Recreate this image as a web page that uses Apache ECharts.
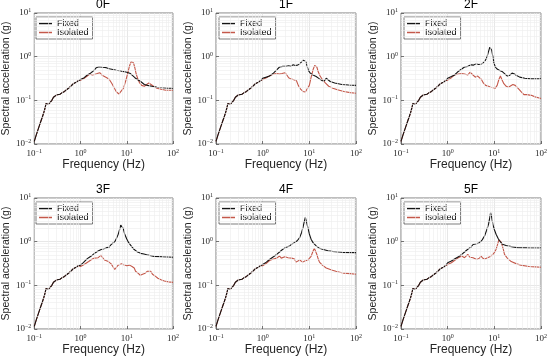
<!DOCTYPE html>
<html><head><meta charset="utf-8">
<script src="https://cdn.jsdelivr.net/npm/echarts@6/dist/echarts.min.js"></script>
<style>html,body{margin:0;padding:0;background:#fff}#c{width:550px;height:357px}</style>
</head><body><div id="c"></div>
<script>
const panelTitles = ['0F','1F','2F','3F','4F','5F'];
const seriesNames = ['Fixed','Isolated'];
const xTicks = [0.1, 1, 10, 100];
const yTicks = [0.01, 0.1, 1, 10];
const xMinorGrid = [0.2,0.3,0.4,0.5,0.6,0.7,0.8,0.9,2,3,4,5,6,7,8,9,20,30,40,50,60,70,80,90];
const yMinorGrid = [0.02,0.03,0.04,0.05,0.06,0.07,0.08,0.09,0.2,0.3,0.4,0.5,0.6,0.7,0.8,0.9,2,3,4,5,6,7,8,9];

// common low-frequency part (0.1 - 0.9 Hz)
const lowFreq = [0.1,0.11,0.12,0.13,0.14,0.15,0.16,0.17,0.18,0.19,0.2,0.21,0.22,0.24,0.26,0.28,0.3,0.33,0.36,0.4,0.45,0.5,0.55,0.6,0.65,0.7,0.75,0.8,0.9];
const lowAcc  = [0.0115,0.016,0.021,0.027,0.034,0.042,0.052,0.065,0.085,0.092,0.08,0.075,0.085,0.1,0.118,0.13,0.132,0.13,0.138,0.15,0.16,0.175,0.19,0.205,0.22,0.24,0.235,0.26,0.28];

const fixed0F = [[1.0,0.3],[1.2,0.33],[1.4,0.38],[1.6,0.41],[1.8,0.45],[2.0,0.5],[2.2,0.56],[2.5,0.59],[3.0,0.57],[3.6,0.56],[4.2,0.53],[5,0.51],[6,0.49],[7,0.48],[8,0.46],[9,0.45],[10,0.44],[12,0.41],[13,0.4],[15,0.33],[17,0.3],[20,0.27],[24,0.23],[28,0.22],[35,0.21],[45,0.2],[60,0.195],[80,0.19],[100,0.19]];
const isolated0F = [[1.0,0.29],[1.2,0.32],[1.4,0.36],[1.6,0.4],[1.8,0.38],[2.0,0.39],[2.3,0.41],[2.6,0.43],[2.8,0.42],[3.0,0.37],[3.3,0.36],[3.7,0.33],[4.2,0.3],[4.8,0.24],[5.4,0.19],[6,0.155],[6.8,0.14],[7.5,0.15],[8.5,0.19],[9.5,0.28],[10.5,0.42],[11.5,0.62],[12.5,0.78],[13.2,0.82],[14,0.72],[15,0.55],[16,0.4],[17.5,0.3],[19,0.25],[21,0.22],[24,0.21],[27,0.23],[30,0.25],[33,0.24],[38,0.21],[45,0.19],[55,0.18],[70,0.17],[85,0.17],[100,0.17]];
const fixed1F = [[1.0,0.32],[1.2,0.34],[1.4,0.36],[1.7,0.42],[2.0,0.5],[2.3,0.58],[2.7,0.6],[3.2,0.6],[3.6,0.62],[4.0,0.6],[4.5,0.65],[5,0.63],[5.6,0.64],[6.2,0.68],[6.8,0.75],[7.4,0.83],[7.9,0.85],[8.4,0.78],[9,0.6],[9.6,0.48],[10.5,0.42],[12,0.38],[14,0.35],[16.5,0.31],[19,0.28],[21,0.28],[23,0.32],[25,0.3],[28,0.27],[35,0.25],[50,0.23],[70,0.225],[100,0.22]];
const isolated1F = [[1.0,0.3],[1.1,0.28],[1.2,0.33],[1.4,0.36],[1.7,0.4],[2.0,0.41],[2.3,0.4],[2.6,0.41],[3.0,0.43],[3.3,0.38],[3.6,0.33],[4.0,0.31],[4.5,0.3],[4.9,0.33],[5.3,0.28],[5.8,0.22],[6.5,0.18],[7.3,0.16],[8.2,0.155],[9,0.17],[10,0.22],[11,0.35],[12,0.5],[13,0.63],[13.7,0.66],[14.5,0.58],[15.5,0.45],[17,0.36],[19,0.3],[22,0.25],[26,0.21],[32,0.19],[40,0.175],[55,0.16],[75,0.15],[100,0.145]];
const fixed2F = [[1.0,0.32],[1.2,0.35],[1.4,0.38],[1.65,0.45],[2.0,0.52],[2.3,0.58],[2.7,0.6],[3.2,0.65],[3.6,0.64],[4.1,0.7],[4.6,0.66],[5.2,0.68],[5.8,0.72],[6.4,0.82],[7,1.0],[7.5,1.3],[8.0,1.65],[8.4,1.7],[8.8,1.4],[9.3,1.0],[9.8,0.72],[10.5,0.58],[11.5,0.52],[13,0.48],[15,0.45],[17,0.4],[19,0.36],[21,0.37],[24,0.42],[27,0.4],[30,0.37],[35,0.34],[45,0.32],[60,0.31],[80,0.31],[100,0.31]];
const isolated2F = [[1.0,0.29],[1.2,0.33],[1.4,0.38],[1.7,0.4],[2.0,0.41],[2.3,0.4],[2.7,0.38],[3.0,0.44],[3.2,0.45],[3.5,0.38],[3.9,0.34],[4.4,0.36],[4.8,0.39],[5.3,0.3],[5.8,0.25],[6.5,0.22],[7.5,0.21],[8.5,0.2],[9.5,0.195],[10.5,0.19],[11.5,0.22],[12.5,0.3],[13.5,0.36],[14.5,0.3],[16,0.24],[18,0.21],[20,0.2],[22,0.21],[25,0.23],[28,0.22],[32,0.19],[37,0.16],[43,0.135],[50,0.135],[55,0.145],[62,0.13],[75,0.12],[100,0.11]];
const fixed3F = [[1.0,0.29],[1.15,0.33],[1.3,0.38],[1.5,0.43],[1.8,0.49],[2.1,0.56],[2.4,0.61],[2.8,0.66],[3.2,0.69],[3.6,0.72],[3.9,0.78],[4.2,0.76],[4.6,0.86],[5.0,0.93],[5.5,1.0],[6.0,1.2],[6.5,1.45],[7.0,1.9],[7.4,2.4],[7.7,2.6],[8.0,2.4],[8.4,2.0],[9.0,1.5],[10,1.15],[11,0.95],[12.8,0.77],[14.5,0.66],[16.7,0.59],[20,0.54],[23.5,0.52],[27,0.5],[39,0.46],[60,0.45],[100,0.44]];
const isolated3F = [[1.0,0.27],[1.2,0.3],[1.5,0.35],[1.8,0.4],[2.0,0.42],[2.2,0.45],[2.4,0.43],[2.6,0.41],[2.8,0.49],[3.0,0.43],[3.3,0.38],[3.6,0.37],[4.0,0.35],[4.3,0.33],[4.6,0.31],[5.0,0.28],[5.5,0.23],[6.0,0.26],[6.5,0.29],[7.0,0.3],[7.7,0.31],[8.5,0.29],[10,0.28],[11.5,0.29],[13,0.27],[14.5,0.25],[15.5,0.21],[17.5,0.19],[19.6,0.17],[22,0.18],[25,0.19],[28,0.21],[30,0.23],[33,0.21],[36,0.18],[42,0.16],[47,0.145],[55,0.135],[65,0.126],[80,0.12],[100,0.117]];
const fixed4F = [[1.0,0.3],[1.2,0.34],[1.4,0.39],[1.7,0.45],[2.0,0.51],[2.3,0.58],[2.7,0.67],[3.2,0.75],[3.5,0.82],[3.8,0.8],[4.2,0.88],[4.8,0.95],[5.5,1.05],[6.2,1.24],[6.8,1.6],[7.3,2.1],[7.8,2.9],[8.2,3.6],[8.6,3.0],[9.3,2.1],[10,1.5],[10.9,1.14],[12,0.95],[14,0.8],[16,0.72],[19,0.67],[25,0.62],[31,0.6],[50,0.57],[100,0.56]];
const isolated4F = [[1.0,0.28],[1.2,0.32],[1.4,0.37],[1.7,0.4],[2.0,0.42],[2.3,0.47],[2.5,0.42],[2.7,0.39],[3.0,0.45],[3.2,0.5],[3.5,0.43],[3.8,0.39],[4.2,0.42],[4.5,0.44],[4.8,0.4],[5.2,0.34],[5.7,0.37],[6.2,0.38],[6.7,0.35],[7.2,0.34],[8.0,0.36],[9.3,0.38],[10.2,0.42],[10.9,0.46],[11.8,0.58],[12.8,0.71],[13.5,0.66],[14.5,0.51],[15.5,0.4],[16.5,0.34],[19,0.29],[23,0.25],[30,0.225],[37,0.21],[55,0.19],[75,0.185],[100,0.18]];
const fixed5F = [[1.0,0.33],[1.2,0.36],[1.4,0.4],[1.7,0.45],[2.0,0.51],[2.3,0.58],[2.7,0.67],[3.2,0.76],[3.5,0.86],[3.8,0.84],[4.2,0.9],[4.8,0.95],[5.5,1.1],[6.2,1.36],[6.8,1.8],[7.5,2.5],[8.0,3.6],[8.3,4.6],[8.7,3.8],[9.3,2.5],[10,1.9],[10.9,1.48],[12,1.2],[12.9,1.05],[15,0.87],[19,0.8],[25,0.76],[31,0.73],[50,0.72],[100,0.71]];
const isolated5F = [[1.0,0.3],[1.2,0.33],[1.4,0.37],[1.7,0.43],[2.0,0.47],[2.3,0.43],[2.5,0.46],[2.7,0.51],[3.0,0.44],[3.2,0.4],[3.5,0.43],[3.8,0.43],[4.2,0.39],[4.5,0.37],[4.8,0.42],[5.2,0.47],[5.6,0.42],[6.2,0.4],[6.7,0.44],[7.2,0.43],[8.0,0.45],[9.3,0.51],[10.2,0.58],[10.9,0.67],[11.8,0.88],[12.5,1.1],[13,1.14],[13.8,1.0],[14.5,0.87],[15.5,0.68],[16.5,0.51],[19,0.42],[23,0.35],[30,0.31],[37,0.29],[55,0.27],[75,0.265],[100,0.26]];

const fixedData = [fixed0F, fixed1F, fixed2F, fixed3F, fixed4F, fixed5F];
const isolatedData = [isolated0F, isolated1F, isolated2F, isolated3F, isolated4F, isolated5F];

const lowPart = lowFreq.map((f, i) => [f, lowAcc[i]]);
const colors = {Fixed: '#141414', Isolated: '#c4584a'};
const ink = '#262626';
const lefts = [33, 216, 401];
const tops = [13, 198];
const W = 140, H = 131;

function supFmt(v) {
  const e = Math.round(Math.log10(v));
  return '{b|10}{s|' + (e < 0 ? '\u2212' + (-e) : e) + '}';
}
const rich = {
  b: {fontFamily: 'Liberation Serif', fontSize: 9, color: ink},
  s: {fontFamily: 'Liberation Serif', fontSize: 6, color: ink, padding: [0, 0, 5, 0]}
};

const grid = [], xAxis = [], yAxis = [], series = [], legend = [], graphic = [];
panelTitles.forEach((t, i) => {
  const L = lefts[i % 3], T = tops[Math.floor(i / 3)];
  grid.push({left: L, top: T, width: W, height: H, show: true, borderColor: ink, borderWidth: 0.6, backgroundColor: '#fff'});
  xAxis.push({
    type: 'log', logBase: 10, gridIndex: i, min: xTicks[0], max: xTicks[xTicks.length - 1],
    axisLine: {show: false},
    axisTick: {show: true, inside: true, length: 3, lineStyle: {color: ink, width: 0.6}},
    axisLabel: {margin: 4, formatter: supFmt, rich: rich},
    splitLine: {show: true, lineStyle: {color: '#d6d6d6', width: 0.6}},
    name: 'Frequency (Hz)', nameLocation: 'middle', nameGap: 14,
    nameTextStyle: {fontFamily: 'Liberation Sans', fontSize: 12, color: ink, verticalAlign: 'top'}
  });
  yAxis.push({
    type: 'log', logBase: 10, gridIndex: i, min: yTicks[0], max: yTicks[yTicks.length - 1],
    axisLine: {show: false},
    axisTick: {show: true, inside: true, length: 3, lineStyle: {color: ink, width: 0.6}},
    axisLabel: {margin: 3, formatter: supFmt, rich: rich},
    splitLine: {show: true, lineStyle: {color: '#d6d6d6', width: 0.6}},
    name: 'Spectral acceleration (g)', nameLocation: 'middle', nameGap: 19, nameRotate: 90,
    nameTextStyle: {fontFamily: 'Liberation Sans', fontSize: 10.5, color: ink}
  });
  series.push({
    type: 'line', name: '_grid' + i, xAxisIndex: i, yAxisIndex: i, z: 1,
    data: [[1, 1]], symbol: 'none', lineStyle: {opacity: 0}, silent: true,
    markLine: {
      silent: true, symbol: ['none', 'none'], label: {show: false}, animation: false,
      lineStyle: {color: '#ececec', width: 0.6, type: 'solid'},
      data: xMinorGrid.map(v => ({xAxis: v})).concat(yMinorGrid.map(v => ({yAxis: v})))
    }
  });
  series.push({
    type: 'line', name: 'Isolated', xAxisIndex: i, yAxisIndex: i, z: 3,
    data: lowPart.concat(isolatedData[i]), symbol: 'none',
    lineStyle: {color: colors.Isolated, width: 1.1}, itemStyle: {color: colors.Isolated}
  });
  series.push({
    type: 'line', name: 'Fixed', xAxisIndex: i, yAxisIndex: i, z: 4,
    data: lowPart.concat(fixedData[i]), symbol: 'none',
    lineStyle: {color: colors.Fixed, width: 1.1}, itemStyle: {color: colors.Fixed}
  });
  legend.push({
    data: seriesNames, orient: 'vertical', left: L + 3, top: T + 4, selectedMode: false,
    backgroundColor: '#fff', borderColor: ink, borderWidth: 0.6, padding: [2, 4, 2, 3],
    itemGap: 0, itemWidth: 13, itemHeight: 1.5, icon: 'rect',
    textStyle: {fontFamily: 'Liberation Sans', fontSize: 9, color: '#000'}
  });
  graphic.push({
    type: 'text', x: L + W / 2, y: T - 8,
    style: {text: t, textAlign: 'center', textVerticalAlign: 'middle', fontFamily: 'Liberation Sans', fontSize: 12, fill: '#000'}
  });
});

const chart = echarts.init(document.getElementById('c'), null, {renderer: 'canvas'});
chart.setOption({animation: false, grid, xAxis, yAxis, series, legend, graphic});
</script></body></html>
